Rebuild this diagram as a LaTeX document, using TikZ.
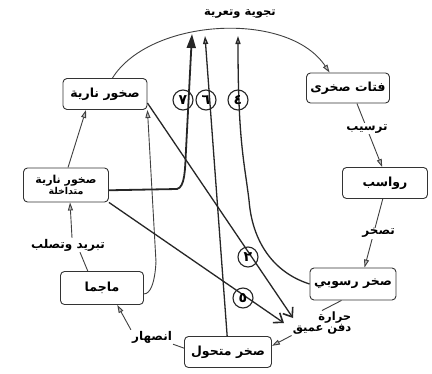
\documentclass[tikz,border=0pt]{standalone}
\usepackage{fontspec}
\newfontfamily\arabicfont[Script=Arabic]{DejaVu Sans}
\TeXXeTstate=1
\usetikzlibrary{arrows.meta}
\newcommand{\artext}[1]{{\arabicfont\beginR #1\endR}}

\begin{document}
\begin{tikzpicture}[x=1pt,y=-1pt,
  rockbox/.style={draw=black!80,line width=0.9pt,rounded corners=4pt,fill=white,minimum width=84pt,minimum height=31pt,inner sep=2pt,font=\fontsize{12.5}{14}\selectfont\bfseries},
  proclabel/.style={fill=white,inner sep=1pt,font=\fontsize{12}{13}\selectfont\bfseries},
  flow/.style={draw=black!75,line width=0.9pt,-{Triangle[length=8pt,width=5pt,fill=black!25]}},
  link/.style={draw=black!75,line width=0.9pt},
  pen/.style={draw=black!85,line width=1.3pt},
  tagcircle/.style={circle,draw=black!85,line width=1.1pt,minimum size=20pt,inner sep=0pt,font=\fontsize{14}{14}\selectfont\bfseries}]

\useasboundingbox (0,0) rectangle (432,373);
\fill[white] (0,0) rectangle (432,373);

% rock boxes
\node[rockbox] (nariya) at (105,94) {\artext{صخور نارية}};
\node[rockbox,minimum width=85pt,minimum height=34pt,font=\fontsize{11}{12.5}\selectfont\bfseries,align=center,inner sep=1pt] (mutadakhila) at (66,185) {\artext{صخور نارية}\\[-1pt]{\fontsize{9.5}{11}\selectfont\artext{متداخلة}}};
\node[rockbox,minimum width=83pt,minimum height=33pt] (magma) at (102,288) {\artext{ماجما}};
\node[rockbox,minimum width=87pt] (mutahawwil) at (228,352) {\artext{صخر متحول}};
\node[rockbox,minimum width=86pt,minimum height=32pt] (rusubi) at (353,284) {\artext{صخر رسوبي}};
\node[rockbox,minimum width=85pt] (rawasib) at (385,183) {\artext{رواسب}};
\node[rockbox,minimum width=83pt,minimum height=30pt] (futat) at (348,88) {\artext{فتات صخرى}};

% process labels
\node[proclabel,font=\fontsize{11.5}{13}\selectfont\bfseries] (weathering) at (240,14) {\artext{تجوية وتعرية}};
\node[proclabel,align=right,font=\fontsize{11.5}{12}\selectfont\bfseries] (heat) at (322,323) {\artext{حرارة}\\[-1pt]\artext{دفن عميق}};
\node[proclabel] (insihar) at (152,337) {\artext{انصهار}};
\node[proclabel] (cool) at (68,245) {\artext{تبريد وتصلب}};

% cycle
\draw[flow] (nariya.65) .. controls (150,18) and (288,10) .. (futat.140);
\draw[flow] (futat.300) -- node[proclabel,pos=0.4]{\artext{ترسيب}} (rawasib.100);
\draw[flow] (rawasib.262) -- node[proclabel,xshift=5pt]{\artext{تصخر}} (rusubi.55);
\draw[link] (rusubi.235) -- (heat.north);
\draw[flow] (heat.south west) -- (mutahawwil.8);
\draw[link] (mutahawwil.175) -- (insihar.south east);
\draw[flow] (insihar.north west) -- (magma.-48);
\draw[link] (magma.130) -- ([xshift=12pt]cool.south);
\draw[flow] ([xshift=4pt]cool.north) -- (mutadakhila.-77);
\draw[flow] ([xshift=2pt]mutadakhila.north) -- (nariya.-140);
\draw[flow] (magma.-8) to[out=0,in=90] (156,262) -- (nariya.south east);

% hand-drawn paths
\coordinate (topA) at (192,34);
\coordinate (topB) at (205,36);
\coordinate (topC) at (238,36);
\coordinate (tipD) at (293,318);
\coordinate (tipE) at (284,323);
\draw[pen,line width=1.8pt,-{Triangle[length=14pt,width=9pt]}] (mutadakhila.-7) -- (177,189) .. controls (185,187) and (185,170) .. (186,150) -- (topA);
\draw[pen,-{Triangle[length=8pt,width=5pt,fill=black!25]}] (mutahawwil.93) -- (topB);
\draw[pen,-{Triangle[length=8pt,width=5pt,fill=black!25]}] (rusubi.west) .. controls (272,272) and (252,240) .. (249,200) .. controls (244,160) and (238,140) .. (topC);
\draw[pen,-{Straight Barb[length=8pt,width=12pt,line width=1.6pt]}] (nariya.-12) -- (tipD);
\draw[pen,-{Straight Barb[length=8pt,width=12pt,line width=1.6pt]}] (mutadakhila.south east) -- (tipE);

% circled numbers
\node[tagcircle] (c7) at (183,100) {\artext{٧}};
\node[tagcircle] (c6) at (206,100) {\artext{٦}};
\node[tagcircle] (c4) at (238,100) {\artext{٤}};
\node[tagcircle] (c2) at (248,257) {\artext{٢}};
\node[tagcircle] (c5) at (243,298) {\artext{٥}};
\end{tikzpicture}
\end{document}
